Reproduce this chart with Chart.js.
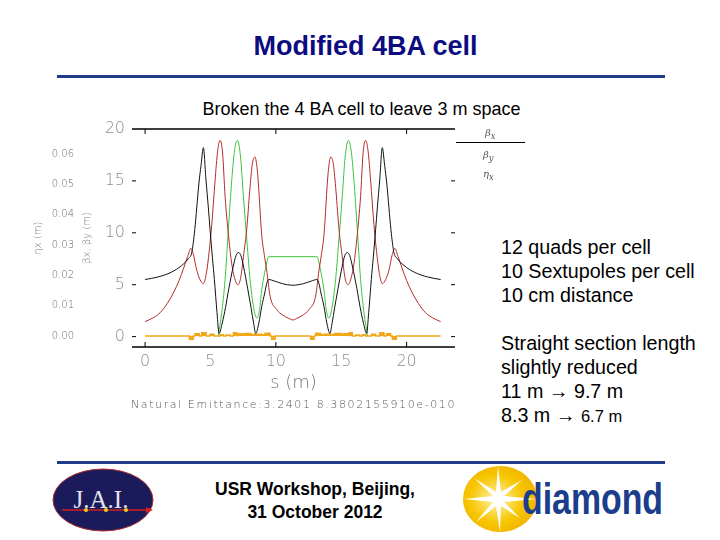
<!DOCTYPE html>
<html>
<head>
<meta charset="utf-8">
<script src="https://cdn.jsdelivr.net/npm/chart.js@4.4.1/dist/chart.umd.min.js"></script>
<style>
  body { margin: 0; background: #fff; }
  #slide { position: relative; width: 720px; height: 540px; overflow: hidden; font-family: "Liberation Sans", Arial, sans-serif; }
  .abs { position: absolute; white-space: nowrap; }
  .rule { position: absolute; left: 57px; width: 608px; height: 3px; background: #1f3c88; }
  #title { left: 0; width: 731px; top: 31px; text-align: center; font-size: 27px; font-weight: bold; color: #0c0c80; }
  #subtitle { left: 0; width: 723px; top: 99px; text-align: center; font-size: 18px; color: #000; }
  #notes { left: 501px; top: 235px; font-size: 19.7px; line-height: 24px; color: #000; }
  .leg { font-size: 10px; font-style: italic; color: #555; font-family: "DejaVu Serif", serif; }
  #emit { left: 131px; top: 398px; font-size: 11px; letter-spacing: 1.6px; color: #555; font-family: "DejaVu Sans", sans-serif; font-weight: 200; }
  #footer { left: 165px; width: 300px; top: 478px; text-align: center; font-size: 17.5px; line-height: 23px; font-weight: bold; color: #000; }
</style>
</head>
<body>
<div id="slide">
  <div id="title" class="abs">Modified 4BA cell</div>
  <div class="rule" style="top:75px"></div>
  <div id="subtitle" class="abs">Broken the 4 BA cell to leave 3 m space</div>

  <div class="abs" style="left:0;top:100px;width:470px;height:320px;">
    <canvas id="optics" width="470" height="320"></canvas>
  </div>

  <div class="abs" style="left:456px;top:142px;width:69px;height:1px;background:#000;"></div>
  <div class="abs leg" style="left:485px;top:127px;">β<sub>x</sub></div>
  <div class="abs leg" style="left:483px;top:149px;">β<sub>y</sub></div>
  <div class="abs leg" style="left:483px;top:168px;">η<sub>x</sub></div>

  <div id="emit" class="abs">Natural Emittance:3.2401 8.3802155910e-010</div>

  <div id="notes" class="abs">
    12 quads per cell<br>
    10 Sextupoles per cell<br>
    10 cm distance<br>
    <br>
    Straight section length<br>
    slightly reduced<br>
    11 m &rarr; 9.7 m<br>
    8.3 m &rarr; <span style="font-size:16.5px">6.7 m</span>
  </div>

  <div class="rule" style="top:461px"></div>

  <svg class="abs" style="left:50px;top:466px" width="110" height="68">
    <ellipse cx="53" cy="34" rx="50" ry="31" fill="#1b1b5c" stroke="#b03030" stroke-width="1"/>
    <text x="51" y="42" text-anchor="middle" font-family="Liberation Serif, serif" font-size="25" fill="#e4e4ee">J.A.I.</text>
    <line x1="12" y1="44" x2="96" y2="44" stroke="#d02020" stroke-width="1.5"/>
    <polygon points="96,41 103,44 96,47" fill="#d02020"/>
    <circle cx="36" cy="44" r="2" fill="#f0d020"/>
    <circle cx="56" cy="44" r="2" fill="#f0d020"/>
    <circle cx="76" cy="44" r="2" fill="#f0d020"/>
  </svg>

  <div id="footer" class="abs">USR Workshop, Beijing,<br>31 October 2012</div>

  <svg class="abs" style="left:460px;top:462px" width="210" height="74">
    <defs>
      <radialGradient id="sun" cx="45%" cy="50%" r="60%">
        <stop offset="0%" stop-color="#fff3b0"/>
        <stop offset="60%" stop-color="#f7c600"/>
        <stop offset="100%" stop-color="#f0b000"/>
      </radialGradient>
    </defs>
    <ellipse cx="40" cy="37" rx="37" ry="33" fill="url(#sun)"/>
    <polygon fill="#fff" points="38,4 41,30 62,18 44,34 76,37 44,40 60,56 41,44 40,70 36,44 16,60 33,40 4,37 33,34 14,16 36,30"/>
    <text x="62" y="52" font-family="Liberation Sans Narrow, Liberation Sans, sans-serif" font-weight="bold" font-size="44" fill="#1a3d8c" textLength="141" lengthAdjust="spacingAndGlyphs">diamond</text>
  </svg>
</div>

<script>
// beta functions (m), s in m
const betaXs = [0, 1, 2, 2.8, 3.3, 3.57, 3.8, 3.95, 4.12, 4.28, 4.46, 4.65, 4.84, 4.97, 5.15, 5.3, 5.5, 5.66, 5.9, 6.15, 6.4, 6.75, 6.95, 7.14, 7.33, 7.52, 7.85, 8.1, 8.3, 8.46, 8.7, 8.92, 9.15, 9.3, 9.45, 9.9, 10.5, 11.3,
  12.1, 12.7, 13.15, 13.3, 13.45, 13.68, 13.9, 14.14, 14.3, 14.5, 14.75, 15.08, 15.27, 15.46, 15.65, 15.85, 16.2, 16.45, 16.7, 16.94, 17.1, 17.3, 17.45, 17.63, 17.76, 17.95, 18.14, 18.32, 18.48, 18.65, 18.8, 19.03, 19.3, 19.8, 20.6, 21.6, 22.6];
const betaX = [5.5, 5.75, 6.2, 6.85, 7.5, 8.1, 10.3, 12.4, 14.8, 16.5, 18.2, 15.2, 12.4, 10.3, 7.6, 5.5, 2.3, 0.3, 1.3, 2.8, 4.6, 6.8, 7.8, 8.1, 7.8, 6.8, 4.6, 2.8, 1.3, 0.3, 1.3, 2.9, 4.2, 5.1, 5.5, 5.35, 5.1, 4.95,
  5.1, 5.35, 5.5, 5.1, 4.2, 2.9, 1.3, 0.3, 1.3, 2.8, 4.6, 6.8, 7.8, 8.1, 7.8, 6.8, 4.6, 2.8, 1.3, 0.3, 2.3, 5.5, 7.6, 10.3, 12.4, 15.2, 18.2, 16.5, 14.8, 12.4, 10.3, 8.1, 7.5, 6.85, 6.2, 5.75, 5.5];

const betaYs = [0, 0.6, 1.15, 1.7, 2.2, 2.6, 2.95, 3.25, 3.5, 3.7, 3.95, 4.2, 4.46, 4.7, 4.9, 5.1, 5.35, 5.55, 5.73, 5.92, 6.12, 6.4, 6.63, 6.9, 7.1, 7.3, 7.55, 7.77, 8.0, 8.2, 8.4, 8.6, 8.92, 9.15, 9.3, 9.56, 10.07, 10.5, 11.0, 11.3,
  11.6, 12.1, 12.53, 13.04, 13.3, 13.45, 13.68, 14.0, 14.2, 14.4, 14.6, 14.83, 15.05, 15.3, 15.5, 15.7, 15.97, 16.2, 16.48, 16.68, 16.87, 17.05, 17.25, 17.5, 17.7, 17.9, 18.14, 18.4, 18.65, 18.9, 19.1, 19.35, 19.65, 20.0, 20.4, 20.9, 21.45, 22.0, 22.6];
const betaY = [1.45, 1.8, 2.3, 3.2, 4.3, 5.4, 6.6, 7.7, 8.5, 7.9, 6.4, 5.5, 5.1, 6.2, 8.2, 10.8, 15.0, 17.9, 18.9, 17.8, 13.5, 9.5, 7.0, 5.4, 5.0, 5.6, 8.0, 10.3, 14.0, 16.6, 17.3, 15.8, 9.8, 7.6, 6.4, 3.9, 2.6, 2.1, 1.75, 1.6,
  1.75, 2.1, 2.6, 3.9, 6.4, 7.6, 9.8, 15.8, 17.3, 16.6, 14.0, 10.3, 8.0, 5.6, 5.0, 5.4, 7.0, 9.5, 13.5, 17.8, 18.9, 17.9, 15.0, 10.8, 8.2, 6.2, 5.1, 5.5, 6.4, 7.9, 8.5, 7.7, 6.6, 5.4, 4.3, 3.2, 2.3, 1.8, 1.45];

const betaGs = [5.6, 5.85, 6.12, 6.37, 6.63, 6.85, 7.06, 7.3, 7.52, 7.8, 8.03, 8.3, 8.54, 8.75, 8.92, 9.15, 9.3, 9.45, 11.3,
  13.15, 13.3, 13.45, 13.68, 13.85, 14.06, 14.3, 14.57, 14.8, 15.08, 15.3, 15.54, 15.75, 15.97, 16.23, 16.48, 16.75, 17.0];
const betaG = [0.1, 2.2, 5.5, 10.3, 15.1, 18.0, 18.9, 17.3, 13.5, 9.0, 5.5, 2.8, 1.8, 2.6, 4.5, 6.2, 7.1, 7.7, 7.7,
  7.7, 7.1, 6.2, 4.5, 2.6, 1.8, 2.8, 5.5, 9.0, 13.5, 17.3, 18.9, 18.0, 15.1, 10.3, 5.5, 2.2, 0.1];

// dispersion (m), held from each s until the next one
const etaS = [0, 3.39, 3.69, 3.82, 4.15, 4.33, 4.66, 4.97, 5.28, 5.73, 5.99, 6.2, 6.5, 6.75, 7.01, 7.13, 7.45, 7.6, 8.1, 8.4, 8.9, 9.17, 9.56, 9.68, 9.94,
  12.66, 12.92, 13.04, 13.43, 13.7, 14.2, 14.5, 15.0, 15.15, 15.47, 15.59, 15.85, 16.1, 16.4, 16.61, 16.87, 17.32, 17.63, 17.94, 18.27, 18.45, 18.78, 18.91, 19.21, 22.6];
const eta = [0, -0.0011, 0, 0.0007, 0, 0.0011, 0, 0.0006, 0, 0.0004, 0, 0.0003, 0, 0.0011, 0.0002, 0.0007, 0.0004, 0.0008, 0.0005, 0.0006, 0.0004, 0.0009, 0, -0.0011, 0,
  -0.0011, 0, 0.0009, 0.0004, 0.0006, 0.0005, 0.0008, 0.0004, 0.0007, 0.0002, 0.0011, 0, 0.0003, 0, 0.0004, 0, 0.0006, 0, 0.0011, 0, 0.0007, 0, -0.0011, 0, 0];

const sTicks = [0, 5, 10, 15, 20];
const betaTicks = [0, 5, 10, 15, 20];
const etaTicks = [0, 0.01, 0.02, 0.03, 0.04, 0.05, 0.06];
const sMarks = [0, 10, 20];
const betaMarks = [0, 5, 10, 15];

function pts(xs, ys) {
    return xs.map((x, i) => ({ x: x, y: ys[i] }));
}

// each value held flat until the next s, so the blocks can be filled
function steps(xs, ys) {
    const out = [];
    xs.forEach((x, i) => {
        out.push({ x: x, y: ys[i] });
        if (i < xs.length - 1) out.push({ x: xs[i + 1], y: ys[i] });
    });
    return out;
}

const tickFont = { family: 'DejaVu Sans', size: 16, weight: 200 };
const noGrid = { display: false, drawTicks: false };

// top/bottom frame lines and inward tick marks
const framePlugin = {
    id: 'frame',
    afterDatasetsDraw(chart) {
        const { ctx, chartArea: a, scales } = chart;
        ctx.save();
        ctx.strokeStyle = '#000';
        ctx.lineWidth = 1.5;
        ctx.beginPath();
        ctx.moveTo(a.left, a.top); ctx.lineTo(a.right, a.top);
        ctx.moveTo(a.left, a.bottom); ctx.lineTo(a.right, a.bottom);
        ctx.stroke();
        ctx.lineWidth = 1;
        ctx.beginPath();
        sMarks.forEach(v => {
            const x = scales.x.getPixelForValue(v);
            ctx.moveTo(x, a.bottom); ctx.lineTo(x, a.bottom - 5);
            ctx.moveTo(x, a.top); ctx.lineTo(x, a.top + 5);
        });
        betaMarks.forEach(v => {
            const y = scales.y.getPixelForValue(v);
            ctx.moveTo(a.left, y); ctx.lineTo(a.left + 4, y);
            ctx.moveTo(a.right, y); ctx.lineTo(a.right - 4, y);
        });
        ctx.stroke();
        ctx.restore();
    }
};

new Chart('optics', {
    type: 'line',
    data: {
        datasets: [
            { label: 'βx', data: pts(betaXs, betaX), borderColor: '#111', borderWidth: 1, pointRadius: 0, cubicInterpolationMode: 'monotone', yAxisID: 'y' },
            { label: 'βy', data: pts(betaYs, betaY), borderColor: '#b52a2a', borderWidth: 1, pointRadius: 0, cubicInterpolationMode: 'monotone', yAxisID: 'y' },
            { label: 'βy2', data: pts(betaGs, betaG), borderColor: '#3cc43c', borderWidth: 1, pointRadius: 0, cubicInterpolationMode: 'monotone', yAxisID: 'y' },
            { label: 'ηx', data: steps(etaS, eta), borderColor: '#f0a818', backgroundColor: '#f0a818', borderWidth: 1.5, pointRadius: 0, tension: 0, fill: 'origin', yAxisID: 'eta' }
        ]
    },
    options: {
        responsive: false,
        animation: false,
        layout: { padding: { left: 30, top: 29, right: 15, bottom: 0 } },
        plugins: { legend: { display: false }, tooltip: { enabled: false } },
        scales: {
            x: {
                type: 'linear',
                min: -1,
                max: 23.7,
                afterBuildTicks: s => { s.ticks = sTicks.map(v => ({ value: v })); },
                afterFit: s => { s.height = 73; },
                grid: noGrid,
                border: { display: false },
                ticks: { font: tickFont, color: '#8c8c8c', padding: 5 },
                title: { display: true, text: 's (m)', font: { family: 'DejaVu Sans', size: 18, weight: 200 }, color: '#777', padding: { top: 0, bottom: 26 } }
            },
            y: {
                position: 'left',
                weight: 0,
                min: -1,
                max: 20,
                afterBuildTicks: s => { s.ticks = betaTicks.map(v => ({ value: v })); },
                afterFit: s => { s.width = 52; },
                grid: noGrid,
                border: { display: false },
                ticks: { font: tickFont, color: '#8c8c8c', padding: 7 },
                title: { display: true, text: 'βx, βy (m)', font: { family: 'DejaVu Sans', size: 10, weight: 200 }, color: '#777', padding: { top: 1, bottom: 0 } }
            },
            eta: {
                position: 'left',
                weight: 10,
                min: -0.00363,
                max: 0.06825,
                afterBuildTicks: s => { s.ticks = etaTicks.map(v => ({ value: v })); },
                afterFit: s => { s.width = 50; },
                grid: noGrid,
                border: { display: false },
                ticks: { font: { family: 'DejaVu Sans', size: 10, weight: 200 }, color: '#666', padding: 6, callback: v => v.toFixed(2) },
                title: { display: true, text: 'ηx (m)', font: { family: 'DejaVu Sans', size: 10, weight: 200 }, color: '#777', padding: { top: 2, bottom: 0 } }
            }
        }
    },
    plugins: [framePlugin]
});
</script>
</body>
</html>
